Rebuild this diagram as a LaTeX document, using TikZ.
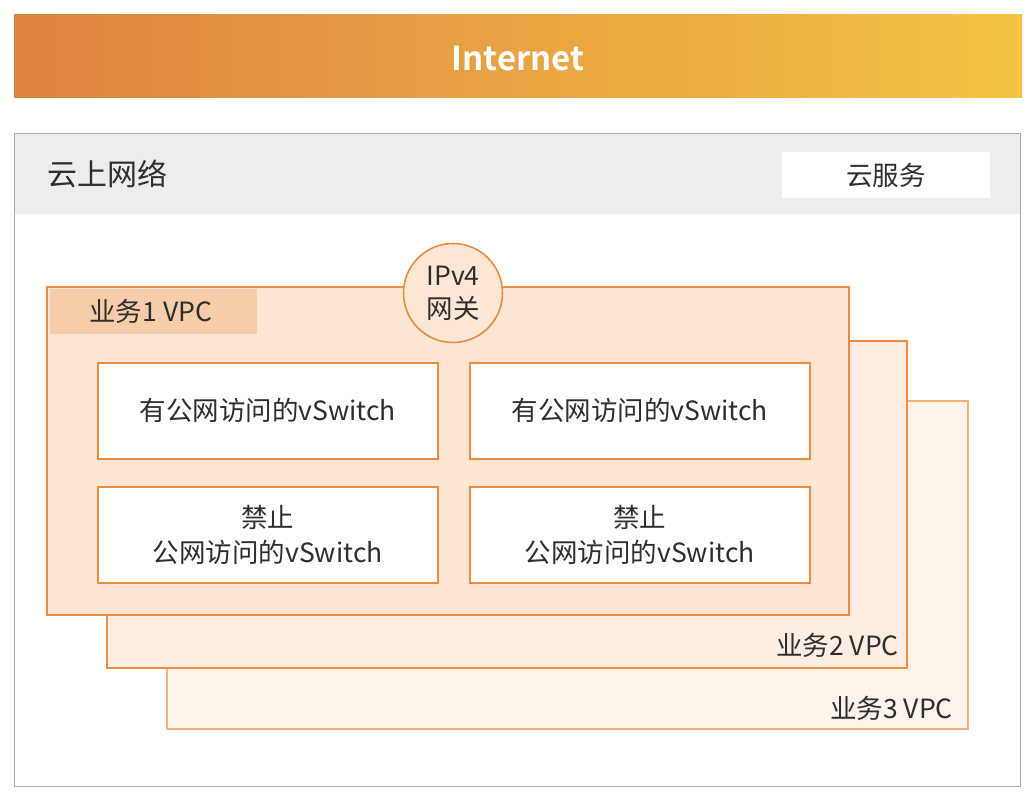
\documentclass[tikz,border=0pt]{standalone}
\usepackage{fontspec}
\setmainfont{Noto Sans CJK SC}
\newfontfamily\cjkbold{Noto Sans CJK SC Bold}
\definecolor{orgline}{HTML}{F08A3C}
\definecolor{orgline3}{HTML}{F5B07C}
\definecolor{vpcone}{HTML}{FBE5D3}
\definecolor{vpctwo}{HTML}{FBEDE2}
\definecolor{vpcthree}{HTML}{FCF3EA}
\definecolor{labelfill}{HTML}{F6CDA8}
\definecolor{gwfill}{HTML}{FCE7D7}
\definecolor{txt}{HTML}{2E2E2E}
\definecolor{hdrgray}{HTML}{EDEDED}
\definecolor{gradl}{HTML}{DE8342}
\definecolor{gradr}{HTML}{F4C342}
\tikzset{
  box/.style={rectangle, inner sep=0pt, anchor=north west},
  vpc/.style={box, draw=orgline, line width=1.6pt},
  vsw/.style={box, draw=orgline, line width=1.6pt, fill=white, minimum width=340pt, minimum height=96pt, font=\fontsize{26.5}{35}\selectfont, text=txt, align=center},
  lbl/.style={inner sep=0pt, text=txt, font=\fontsize{26.5}{32}\selectfont}
}
\begin{document}
\begin{tikzpicture}[x=1pt,y=-1pt]
\useasboundingbox[fill=white] (0,0) rectangle (1032,800);
% Internet banner
\node[box, minimum width=1008pt, minimum height=83pt, left color=gradl, right color=gradr, draw=none] (inet) at (14,14) {};
\node[text=white, font=\cjkbold\fontsize{33}{36}\selectfont] (inettxt) at ([yshift=-3pt]inet.center) {Internet};
% Cloud network
\node[box, draw=black!33, line width=1.2pt, fill=white, minimum width=1006pt, minimum height=653pt] (cloud) at (14,133) {};
\node[box, fill=hdrgray, minimum width=1005pt, minimum height=80pt] (hdr) at (14.5,133.5) {};
\node[lbl, anchor=west, font=\fontsize{30}{36}\selectfont] (cloudtxt) at (47,174) {云上网络};
\node[box, fill=white, minimum width=208pt, minimum height=46pt] (svc) at (782,152) {};
\node[lbl] (svctxt) at (svc.center) {云服务};
% VPC 3
\node[box, draw=orgline3, line width=1.6pt, fill=vpcthree, minimum width=801pt, minimum height=328pt] (vpc3) at (166,400) {};
\node[lbl, anchor=east] (vpc3txt) at (953,708) {业务3 VPC};
% VPC 2
\node[vpc, fill=vpctwo, minimum width=800pt, minimum height=327pt] (vpc2) at (106,340) {};
\node[lbl, anchor=east] (vpc2txt) at (899,645) {业务2 VPC};
% VPC 1
\node[vpc, fill=vpcone, minimum width=802pt, minimum height=328pt] (vpc1) at (46,286) {};
\node[box, fill=labelfill, minimum width=207pt, minimum height=45pt] (vpc1lbl) at (50,289) {};
\node[lbl] (vpc1txt) at ([xshift=-3pt]vpc1lbl.center) {业务1 VPC};
% Gateway
\node[circle, draw=orgline, line width=1.6pt, fill=gwfill, minimum size=99pt, inner sep=0pt, align=center, text=txt, font=\fontsize{26.5}{33}\selectfont] (gw) at (453,293) {IPv4\\网关};
% vSwitches
\node[vsw] (sw1) at (97,362) {有公网访问的vSwitch};
\node[vsw] (sw2) at (469,362) {有公网访问的vSwitch};
\node[vsw] (sw3) at (97,486) {禁止\\公网访问的vSwitch};
\node[vsw] (sw4) at (469,486) {禁止\\公网访问的vSwitch};
\end{tikzpicture}
\end{document}
